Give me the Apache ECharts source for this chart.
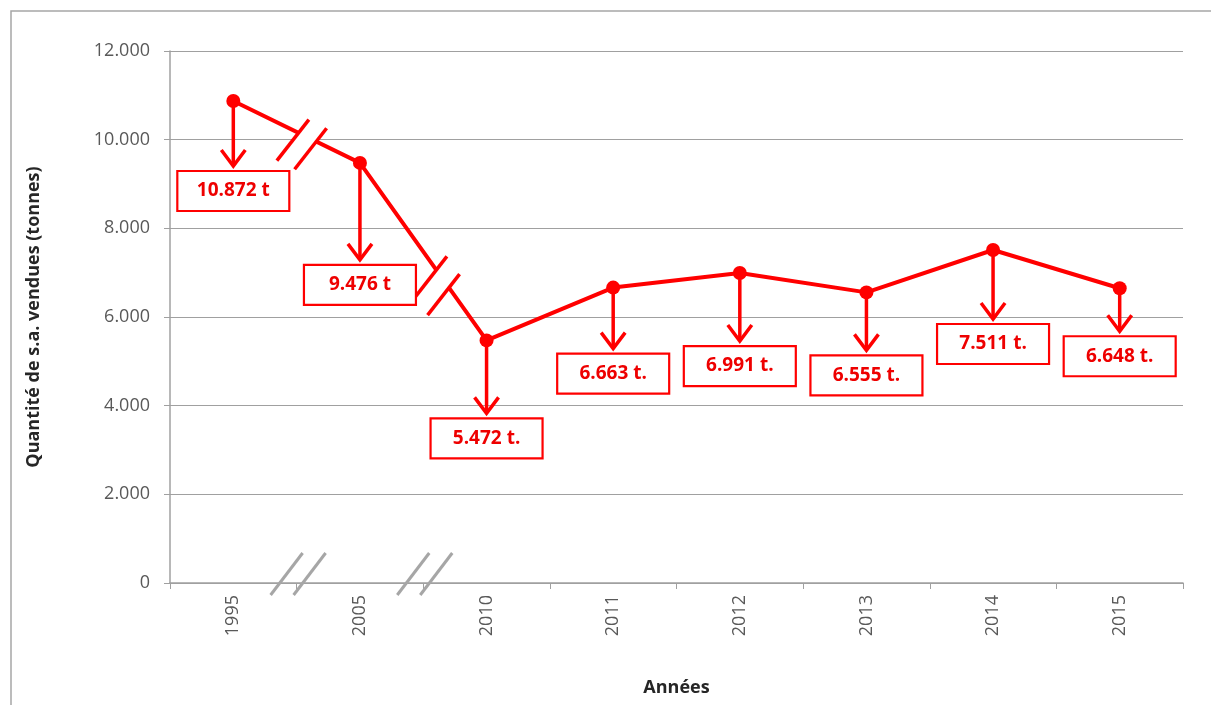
<!DOCTYPE html>
<html>
<head>
<meta charset="utf-8">
<script src="https://cdn.jsdelivr.net/npm/echarts@6/dist/echarts.min.js"></script>
<style>
html,body{margin:0;padding:0;background:#fff;}
#chart{width:1211px;height:705px;}
</style>
</head>
<body>
<div id="chart"></div>
<script>
// ---- data ----
var categories = ['1995', '2005', '2010', '2011', '2012', '2013', '2014', '2015'];
var values = [10872, 9476, 5472, 6663, 6991, 6555, 7511, 6648];
var valueLabels = ['10.872 t', '9.476 t', '5.472 t.', '6.663 t.', '6.991 t.', '6.555 t.', '7.511 t.', '6.648 t.'];
var yTicks = { min: 0, max: 12000, interval: 2000 };

// ---- annotation layout (pixels / fractions, not data) ----
var labelDrop = [70, 102, 78, 66, 73, 63, 74, 48];
var lineBreaks = [[0, 0.51, 0.65], [1, 0.60, 0.70]];
var axisBreaks = [[0], [1]];

var RED = '#ff0000';
var FONT = '"Open Sans", "Liberation Sans", sans-serif';

var chart = echarts.init(document.getElementById('chart'), null, { renderer: 'canvas' });

var option = {
  backgroundColor: '#ffffff',
  animation: false,
  graphic: [{
    type: 'rect',
    shape: { x: 11, y: 11, width: 1400, height: 900 },
    style: { fill: null, stroke: '#a6a6a6', lineWidth: 1.5 },
    silent: true
  }],
  grid: { left: 170, right: 28, top: 51, bottom: 122 },
  xAxis: {
    type: 'category',
    data: categories,
    boundaryGap: true,
    axisLine: { lineStyle: { color: '#a0a0a0', width: 1.5 } },
    axisTick: { show: true, length: 6, lineStyle: { color: '#a0a0a0' } },
    axisLabel: { rotate: 90, margin: 12, color: '#595959', fontSize: 18, fontFamily: FONT },
    name: 'Années',
    nameLocation: 'middle',
    nameGap: 96,
    nameTextStyle: { fontWeight: 'bold', fontSize: 18, color: '#262626', fontFamily: FONT }
  },
  yAxis: {
    type: 'value',
    min: yTicks.min,
    max: yTicks.max,
    interval: yTicks.interval,
    axisLine: { show: true, lineStyle: { color: '#a0a0a0', width: 1.5 } },
    axisTick: { show: true, length: 6, lineStyle: { color: '#a0a0a0' } },
    splitLine: { show: true, lineStyle: { color: '#a0a0a0', width: 1.2 } },
    axisLabel: {
      margin: 20, color: '#595959', fontSize: 18, fontFamily: FONT,
      formatter: function (v) { return v === 0 ? '0' : (v / 1000).toFixed(3); }
    },
    name: 'Quantité de s.a. vendues (tonnes)',
    nameLocation: 'middle',
    nameGap: 127,
    nameTextStyle: { fontWeight: 'bold', fontSize: 18, color: '#262626', fontFamily: FONT }
  },
  series: [
    {
      type: 'line',
      data: values,
      z: 2,
      symbol: 'circle',
      symbolSize: 14,
      itemStyle: { color: RED },
      lineStyle: { color: RED, width: 4 }
    },
    {
      type: 'custom',
      z: 3,
      data: lineBreaks,
      encode: { x: 0, y: 1 },
      renderItem: function (params, api) {
        var i = api.value(0), t1 = api.value(1), t2 = api.value(2);
        var a = api.coord([i, values[i]]);
        var b = api.coord([i + 1, values[i + 1]]);
        function at(t) { return [a[0] + (b[0] - a[0]) * t, a[1] + (b[1] - a[1]) * t]; }
        var P = at(t1), Q = at(t2);
        var u = [-21, 28], w = [11, -13];
        function add(p, d) { return [p[0] + d[0], p[1] + d[1]]; }
        return {
          type: 'group',
          children: [
            { type: 'polygon', shape: { points: [add(P, u), add(P, w), add(Q, w), add(Q, u)] }, style: { fill: '#ffffff' } },
            { type: 'line', shape: { x1: P[0] + u[0], y1: P[1] + u[1], x2: P[0] + w[0], y2: P[1] + w[1] }, style: { stroke: RED, lineWidth: 3.5 } },
            { type: 'line', shape: { x1: Q[0] + u[0], y1: Q[1] + u[1], x2: Q[0] + w[0], y2: Q[1] + w[1] }, style: { stroke: RED, lineWidth: 3.5 } }
          ]
        };
      }
    },
    {
      type: 'custom',
      z: 3,
      data: axisBreaks,
      encode: { x: 0 },
      renderItem: function (params, api) {
        var i = api.value(0);
        var a = api.coord([i, 0]);
        var b = api.coord([i + 1, 0]);
        var x = (a[0] + b[0]) / 2, y = a[1];
        var u = [-9, 12], w = [23, -30];
        var xs = [x - 17, x + 6];
        return {
          type: 'group',
          children: xs.map(function (cx) {
            return { type: 'line', shape: { x1: cx + u[0], y1: y + u[1], x2: cx + w[0], y2: y + w[1] }, style: { stroke: '#a6a6a6', lineWidth: 3 } };
          })
        };
      }
    },
    {
      type: 'custom',
      z: 4,
      data: values.map(function (v, i) { return [i, v]; }),
      encode: { x: 0, y: 1 },
      renderItem: function (params, api) {
        var i = api.value(0);
        var p = api.coord([i, api.value(1)]);
        var top = p[1] + labelDrop[i];
        var bw = 112, bh = 40;
        var tip = top - 5;
        return {
          type: 'group',
          children: [
            { type: 'line', shape: { x1: p[0], y1: p[1] + 6, x2: p[0], y2: tip - 1 }, style: { stroke: RED, lineWidth: 3.5 } },
            { type: 'polyline', shape: { points: [[p[0] - 12, tip - 16], [p[0], tip], [p[0] + 12, tip - 16]] }, style: { stroke: RED, lineWidth: 3.5, fill: null } },
            { type: 'rect', shape: { x: p[0] - bw / 2, y: top, width: bw, height: bh }, style: { fill: '#ffffff', stroke: RED, lineWidth: 2.2 } },
            { type: 'text', x: p[0], y: top + bh / 2, style: { text: valueLabels[i], fill: '#ee0000', fontSize: 19, fontWeight: 'bold', fontFamily: FONT, align: 'center', verticalAlign: 'middle' } }
          ]
        };
      }
    }
  ]
};

chart.setOption(option);
</script>
</body>
</html>
